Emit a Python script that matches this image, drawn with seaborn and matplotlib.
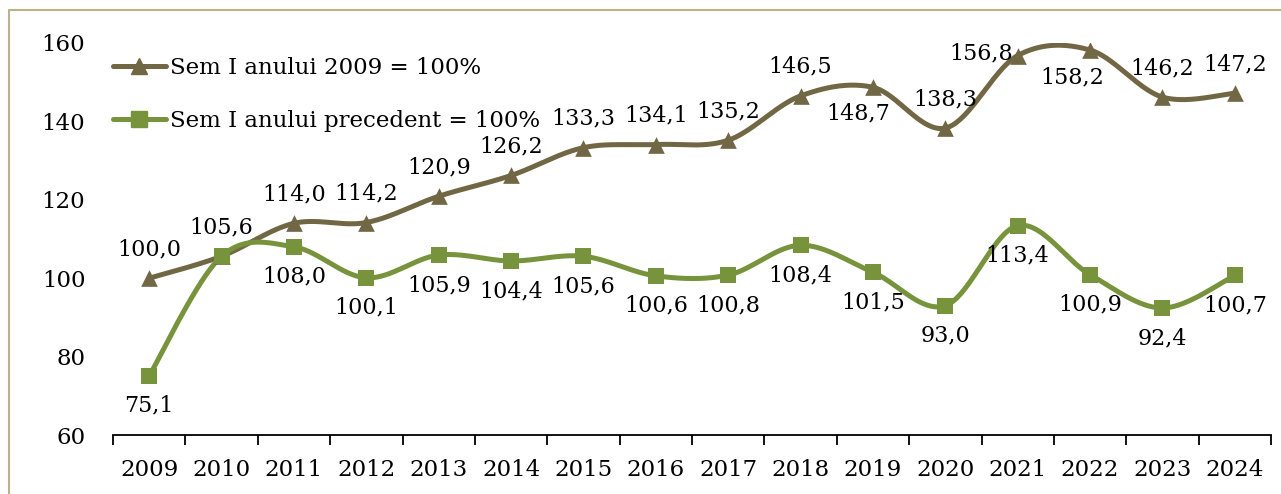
import numpy as np
import matplotlib.pyplot as plt
import seaborn as sns
from matplotlib.lines import Line2D

# Date grafic
years = ['2009', '2010', '2011', '2012', '2013', '2014', '2015', '2016',
         '2017', '2018', '2019', '2020', '2021', '2022', '2023', '2024']
base_2009 = [100.0, 105.6, 114.0, 114.2, 120.9, 126.2, 133.3, 134.1,
             135.2, 146.5, 148.7, 138.3, 156.8, 158.2, 146.2, 147.2]
prev_year = [75.1, 105.6, 108.0, 100.1, 105.9, 104.4, 105.6, 100.6,
             100.8, 108.4, 101.5, 93.0, 113.4, 100.9, 92.4, 100.7]
series_names = ['Sem I anului 2009 = 100%', 'Sem I anului precedent = 100%']

BROWN = '#716744'
GREEN = '#77933C'
FONT = 'DejaVu Serif'


def smooth(vals, n=40):
    # curba netezita (tip Excel, bezier catmull-rom)
    pts = np.column_stack([np.arange(len(vals)), np.asarray(vals, float)])
    last = len(pts) - 1
    out = []
    for i in range(last):
        p0 = pts[max(i - 1, 0)]
        p1 = pts[i]
        p2 = pts[i + 1]
        p3 = pts[min(i + 2, last)]
        c1 = p1 + (p2 - p0) / 6
        c2 = p2 - (p3 - p1) / 6
        t = np.linspace(0, 1, n)[:, None]
        seg = (1 - t) ** 3 * p1 + 3 * (1 - t) ** 2 * t * c1 + 3 * (1 - t) * t ** 2 * c2 + t ** 3 * p2
        out.append(seg if i == 0 else seg[1:])
    return np.vstack(out)


sns.set_style('white')
plt.rcParams['font.family'] = [FONT, 'DejaVu Sans']
plt.rcParams['text.color'] = 'black'
plt.rcParams['xtick.color'] = 'black'
plt.rcParams['ytick.color'] = 'black'
plt.rcParams['axes.labelcolor'] = 'black'

fig = plt.figure(figsize=(12.81, 4.94), dpi=100)
ax = fig.add_axes([113 / 1281, 1 - 435 / 494, 1158 / 1281, 392 / 494])

x = np.arange(len(years))
for vals, color, marker, ms in [(base_2009, BROWN, '^', 12), (prev_year, GREEN, 's', 12)]:
    curve = smooth(vals)
    ax.plot(curve[:, 0], curve[:, 1], color=color, lw=3.6, solid_capstyle='round', zorder=2)
    sns.scatterplot(x=x, y=vals, marker=marker, s=ms ** 2, color=color,
                    edgecolor=color, linewidth=0, ax=ax, zorder=3, legend=False)

# etichete
fmt = lambda v: f'{v:.1f}'.replace('.', ',')
brown_off = {10: (-15, -26), 12: (-36, 2), 13: (-18, -27)}
for i, v in enumerate(base_2009):
    dx, dy = brown_off.get(i, (0, 29))
    ax.annotate(fmt(v), (x[i], v), xytext=(dx, dy), textcoords='offset pixels',
                ha='center', va='center', fontsize=16, color='black')
for i, v in enumerate(prev_year):
    if i == 1:
        continue
    ax.annotate(fmt(v), (x[i], v), xytext=(0, -30), textcoords='offset pixels',
                ha='center', va='center', fontsize=16, color='black')

ax.set_xlim(-0.5, len(years) - 0.5)
ax.set_ylim(60, 160)
ax.set_yticks([60, 80, 100, 120, 140, 160])
ax.set_xticks(x)
ax.set_xticklabels(years)
ax.set_xticks(np.arange(len(years) + 1) - 0.5, minor=True)
ax.tick_params(axis='x', which='major', length=0, pad=17, labelsize=16.5, labelcolor='black')
ax.tick_params(axis='x', which='minor', bottom=True, length=7, width=1.3,
               direction='out', color='black')
ax.tick_params(axis='y', length=0, pad=20, labelsize=16.5, labelcolor='black')
for s in ['top', 'right', 'left']:
    ax.spines[s].set_visible(False)
ax.spines['bottom'].set_color('black')
ax.spines['bottom'].set_linewidth(1.3)
ax.set_xlabel('')
ax.set_ylabel('')

handles = [Line2D([], [], color=BROWN, lw=3.6, marker='^', ms=12),
           Line2D([], [], color=GREEN, lw=3.6, marker='s', ms=11)]
ax.legend(handles, series_names, loc='upper left', bbox_to_anchor=(0, 0.965),
          frameon=False, fontsize=16.5, handlelength=2.3, handletextpad=0.2,
          labelspacing=1.35, borderaxespad=0, borderpad=0, labelcolor='black')

# chenar
bc = '#BCB188'
fig.add_artist(Line2D([9 / 1281, 1], [1 - 10 / 494, 1 - 10 / 494], color=bc, lw=1.5,
                      transform=fig.transFigure))
fig.add_artist(Line2D([9 / 1281, 9 / 1281], [0, 1 - 10 / 494], color=bc, lw=1.5,
                      transform=fig.transFigure))

fig.savefig('out.png', dpi=100)
plt.close(fig)
